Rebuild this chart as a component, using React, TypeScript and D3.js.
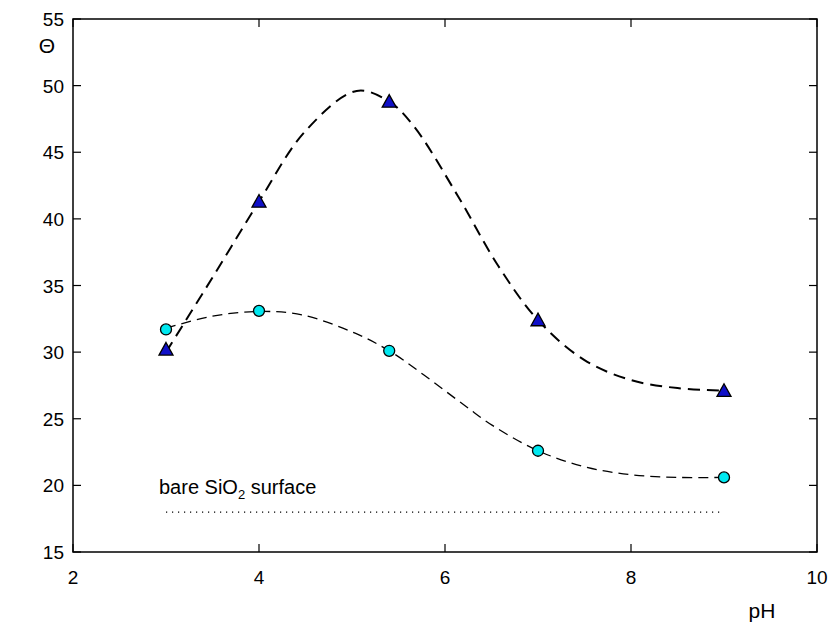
import React from "react";
import * as d3 from "d3";

const triX = [3, 4, 5.4, 7, 9];
const triY = [30.2, 41.3, 48.8, 32.4, 27.1];
const cirX = [3, 4, 5.4, 7, 9];
const cirY = [31.7, 33.1, 30.1, 22.6, 20.6];

// fitted curves
const triFitX = [3, 3.5, 4, 4.5, 5.05, 5.4, 5.66, 6.14, 6.57, 7, 7.5, 8, 8.5, 9];
const triFitY = [30.0, 35.6, 41.3, 46.6, 49.6, 48.8, 47.0, 41.7, 36.5, 32.4, 29.4, 27.9, 27.3, 27.1];
const cirFitX = [3, 3.5, 4, 4.46, 5.04, 5.4, 5.77, 6.23, 6.51, 7, 7.5, 8, 8.5, 9];
const cirFitY = [31.8, 32.7, 33.05, 32.8, 31.4, 30.1, 28.3, 25.9, 24.5, 22.6, 21.4, 20.8, 20.6, 20.6];

const bareX = [3, 9];
const bareY = [18, 18];

const xTicks = [2, 4, 6, 8, 10];
const yTicks = [15, 20, 25, 30, 35, 40, 45, 50, 55];

export default function App() {
  const L = 73, R = 817, T = 19, B = 552;
  const x = d3.scaleLinear().domain([2, 10]).range([L, R]);
  const y = d3.scaleLinear().domain([15, 55]).range([B, T]);
  const line = d3
    .line<[number, number]>()
    .x((d) => x(d[0]))
    .y((d) => y(d[1]))
    .curve(d3.curveCatmullRom.alpha(0.5));
  const triFit = triFitX.map((v, i) => [v, triFitY[i]] as [number, number]);
  const cirFit = cirFitX.map((v, i) => [v, cirFitY[i]] as [number, number]);
  const bare = bareX.map((v, i) => [v, bareY[i]] as [number, number]);
  const straight = d3.line<[number, number]>().x((d) => x(d[0])).y((d) => y(d[1]));
  const font = "Liberation Sans, Arial, sans-serif";
  const tri = (cx: number, cy: number) => {
    const s = 7;
    return `M${cx},${cy - s} L${cx + s},${cy + s * 0.8} L${cx - s},${cy + s * 0.8} Z`;
  };
  return (
    <svg width={830} height={627} style={{ position: "absolute", left: 0, top: 0 }} fontFamily={font}>
      <rect width={830} height={627} fill="white" />
      <path d={line(cirFit) || ""} fill="none" stroke="black" strokeWidth={1.3} strokeDasharray="10,6" />
      <path d={line(triFit) || ""} fill="none" stroke="black" strokeWidth={2} strokeDasharray="12,7" />
      <path d={straight(bare) || ""} fill="none" stroke="black" strokeWidth={1.2} strokeDasharray="1.2,4.8" />
      <text x={159} y={494} fontSize={20}>
        bare SiO<tspan fontSize={13} dy={5}>2</tspan>
        <tspan dy={-5}> surface</tspan>
      </text>
      {cirX.map((v, i) => (
        <circle key={"c" + i} cx={x(v)} cy={y(cirY[i])} r={5.5} fill="#00e8f0" stroke="black" strokeWidth={1.3} />
      ))}
      {triX.map((v, i) => (
        <path key={"t" + i} d={tri(x(v), y(triY[i]))} fill="#1010c8" stroke="black" strokeWidth={1.3} />
      ))}
      <rect x={L} y={T} width={R - L} height={B - T} fill="none" stroke="black" strokeWidth={1.5} />
      {xTicks.map((t) => (
        <g key={"x" + t}>
          <line x1={x(t)} x2={x(t)} y1={B} y2={B - 8} stroke="black" strokeWidth={1.2} />
          <line x1={x(t)} x2={x(t)} y1={T} y2={T + 8} stroke="black" strokeWidth={1.2} />
          <text x={x(t)} y={584} fontSize={19} textAnchor="middle">{t}</text>
        </g>
      ))}
      {yTicks.map((t) => (
        <g key={"y" + t}>
          <line x1={L} x2={L + 8} y1={y(t)} y2={y(t)} stroke="black" strokeWidth={1.2} />
          <line x1={R} x2={R - 8} y1={y(t)} y2={y(t)} stroke="black" strokeWidth={1.2} />
          <text x={64} y={y(t) + 7} fontSize={19} textAnchor="end">{t}</text>
        </g>
      ))}
      <text x={47} y={53} fontSize={21} textAnchor="middle">Θ</text>
      <text x={762} y={618} fontSize={21} textAnchor="middle">pH</text>
    </svg>
  );
}
